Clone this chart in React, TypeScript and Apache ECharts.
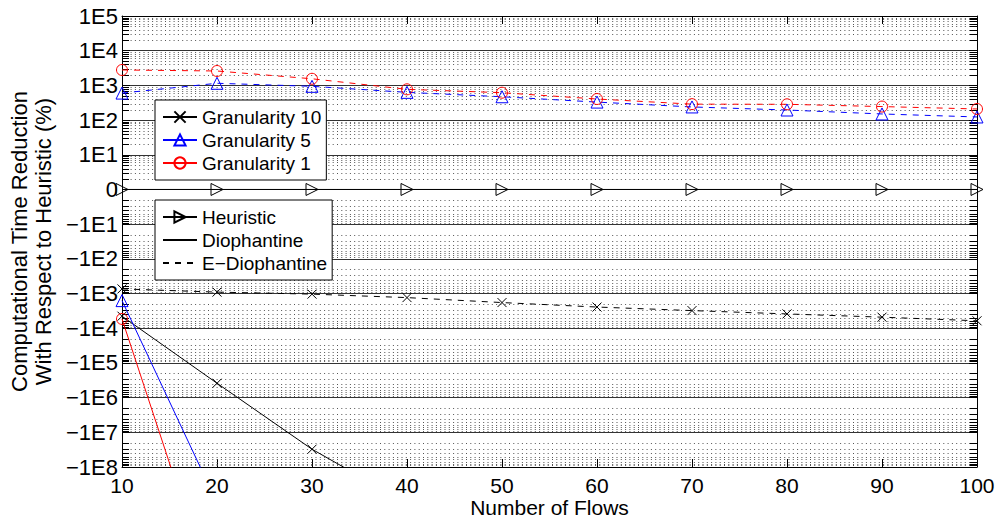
import React, { useEffect, useRef } from 'react';
import * as echarts from 'echarts';

// ---------- data ----------
const flows = [10, 20, 30, 40, 50, 60, 70, 80, 90, 100];
const heuristic = [0, 0, 0, 0, 0, 0, 0, 0, 0, 0];
// E-Diophantine (dashed)
const gran10EDioph = [-736, -910, -1040, -1310, -1820, -2450, -3100, -3870, -4800, -6100];
const gran5EDioph = [600, 1150, 940, 630, 470, 330, 239, 195, 150, 123];
const gran1EDioph = [2780, 2600, 1550, 770, 615, 405, 288, 285, 245, 209];
// Diophantine (solid) – leave the plot quickly
const gran10DiophFlows = [10, 20, 30, 40];
const gran10Dioph = [-4500, -3.85e5, -3.07e7, -1.1e9];
const gran5DiophFlows = [10, 20];
const gran5Dioph = [-1600, -1.07e9];
const gran1DiophFlows = [10, 20];
const gran1Dioph = [-5400, -1.1e12];

const yTickLabels = ['−1E8', '−1E7', '−1E6', '−1E5', '−1E4', '−1E3', '−1E2', '−1E1', '0', '1E1', '1E2', '1E3', '1E4', '1E5'];
const yMinExp = -8;
const yMaxExp = 5;
const minorMantissas = [2, 3, 4, 5, 6, 7, 8, 9];

const FONT = '"Liberation Sans", Arial, Helvetica, sans-serif';

const symlog = (v: number) => (v === 0 ? 0 : Math.sign(v) * Math.log10(Math.abs(v)));
const pairs = (xs: number[], ys: number[]) => xs.map((x, i) => [x, symlog(ys[i])]);

const minorPositions: number[] = [];
for (let k = yMinExp; k < yMaxExp; k++) {
  for (const m of minorMantissas) {
    minorPositions.push(k >= 0 ? k + Math.log10(m) : k + 1 - Math.log10(m));
  }
}

const X_SYMBOL = 'path://M0,0L10,10M10,0L0,10';

export default function App() {
  const ref = useRef<HTMLDivElement>(null);
  useEffect(() => {
    if (!ref.current) return;
    const chart = echarts.init(ref.current, undefined, { renderer: 'svg' });

    const legendCommon = {
      orient: 'vertical' as const,
      left: 155,
      backgroundColor: '#fff',
      borderColor: '#000',
      borderWidth: 1,
      borderRadius: 0,
      padding: [7, 5, 7, 7],
      itemWidth: 34,
      itemHeight: 14,
      itemGap: 3,
      selectedMode: false,
      textStyle: { fontSize: 19, fontFamily: FONT, color: '#000', lineHeight: 20 },
    };

    const hollow = (c: string) => ({ color: 'rgba(0,0,0,0)', borderColor: c, borderWidth: 1 });

    const option: any = {
      animation: false,
      backgroundColor: '#fff',
      textStyle: { fontFamily: FONT },
      grid: { left: 122, right: 24, top: 16, bottom: 52, containLabel: false, outerBoundsMode: 'none' },
      legend: [
        { ...legendCommon, top: 100, data: ['Granularity 10', 'Granularity 5', 'Granularity 1'] },
        { ...legendCommon, top: 200, data: ['Heuristic', 'Diophantine', 'E−Diophantine'] },
      ],
      xAxis: [
        {
          type: 'value', min: 10, max: 100, interval: 10, position: 'bottom',
          axisLine: { onZero: false, lineStyle: { color: '#000', width: 1 } },
          axisTick: { inside: true, length: 8, lineStyle: { color: '#000' } },
          axisLabel: { fontSize: 21, lineHeight: 21, color: '#000', fontFamily: FONT, margin: 8 },
          splitLine: { show: false },
          name: 'Number of Flows', nameLocation: 'middle', nameGap: 40, nameMoveOverlap: false,
          nameTextStyle: { fontSize: 21, lineHeight: 17, color: '#000', fontFamily: FONT, verticalAlign: 'middle' },
        },
        {
          type: 'value', min: 10, max: 100, interval: 10, position: 'top',
          axisLine: { onZero: false, lineStyle: { color: '#000', width: 1 } },
          axisTick: { inside: true, length: 8, lineStyle: { color: '#000' } },
          axisLabel: { show: false }, splitLine: { show: false },
        },
      ],
      yAxis: [
        {
          type: 'value', min: yMinExp, max: yMaxExp, interval: 1, position: 'left',
          axisLine: { onZero: false, lineStyle: { color: '#000', width: 1 } },
          axisTick: { inside: true, length: 8, lineStyle: { color: '#000' } },
          axisLabel: {
            fontSize: 22, color: '#000', fontFamily: FONT, margin: 4,
            formatter: (v: number) => yTickLabels[Math.round(v) - yMinExp],
          },
          splitLine: { show: true, lineStyle: { color: '#333', width: 1, type: 'solid' } },
          name: 'Computational Time Reduction\nWith Respect to Heuristic (%)',
          nameLocation: 'middle', nameRotate: 90, nameGap: 67, nameMoveOverlap: false,
          nameTextStyle: { fontSize: 22, color: '#000', fontFamily: FONT, lineHeight: 24 },
        },
        {
          type: 'value', min: yMinExp, max: yMaxExp, interval: 1, position: 'right',
          axisLine: { onZero: false, lineStyle: { color: '#000', width: 1 } },
          axisTick: { inside: true, length: 8, lineStyle: { color: '#000' } },
          axisLabel: { show: false }, splitLine: { show: false },
        },
      ],
      series: [
        {
          type: 'custom', name: 'minorGrid', silent: true, z: 1, clip: false,
          data: minorPositions.map((t) => [10, t]),
          encode: { x: 0, y: 1 },
          renderItem: (params: any, api: any) => {
            const cs = params.coordSys;
            const y = Math.round(api.coord([10, api.value(1)])[1]) + 0.5;
            const l = cs.x, r = cs.x + cs.width;
            return {
              type: 'group',
              children: [
                { type: 'line', shape: { x1: l, y1: y, x2: r, y2: y }, style: { stroke: '#555', lineWidth: 1, lineDash: [1, 3.3] } },
                { type: 'line', shape: { x1: l, y1: y, x2: l + 7, y2: y }, style: { stroke: '#000', lineWidth: 1 } },
                { type: 'line', shape: { x1: r - 7, y1: y, x2: r, y2: y }, style: { stroke: '#000', lineWidth: 1 } },
              ],
            };
          },
        },
        {
          name: 'Granularity 10', type: 'line', data: pairs(gran10DiophFlows, gran10Dioph),
          symbol: X_SYMBOL, symbolSize: 9, itemStyle: hollow('#000'),
          lineStyle: { color: '#000', width: 1 },
        },
        {
          name: 'Granularity 5', type: 'line', data: pairs(gran5DiophFlows, gran5Dioph),
          symbol: 'triangle', symbolSize: 12, itemStyle: hollow('#0000ff'),
          lineStyle: { color: '#0000ff', width: 1 },
        },
        {
          name: 'Granularity 1', type: 'line', data: pairs(gran1DiophFlows, gran1Dioph),
          symbol: 'circle', symbolSize: 11, itemStyle: hollow('#ff0000'),
          lineStyle: { color: '#ff0000', width: 1 },
        },
        {
          name: 'Granularity 10 E', type: 'line', data: pairs(flows, gran10EDioph),
          symbol: X_SYMBOL, symbolSize: 9, itemStyle: hollow('#000'),
          lineStyle: { color: '#000', width: 1, type: [6, 6] },
        },
        {
          name: 'Granularity 5 E', type: 'line', data: pairs(flows, gran5EDioph),
          symbol: 'triangle', symbolSize: 12, itemStyle: hollow('#0000ff'),
          lineStyle: { color: '#0000ff', width: 1, type: [6, 6] },
        },
        {
          name: 'Granularity 1 E', type: 'line', data: pairs(flows, gran1EDioph),
          symbol: 'circle', symbolSize: 11, itemStyle: hollow('#ff0000'),
          lineStyle: { color: '#ff0000', width: 1, type: [6, 6] },
        },
        {
          name: 'Heuristic', type: 'line', data: pairs(flows, heuristic),
          symbol: 'triangle', symbolRotate: -90, symbolSize: 12, itemStyle: hollow('#000'),
          lineStyle: { color: '#000', width: 1 },
        },
        {
          name: 'Diophantine', type: 'line', data: [],
          symbol: 'none', itemStyle: { color: 'rgba(0,0,0,0)', borderColor: 'rgba(0,0,0,0)', borderWidth: 0 },
          lineStyle: { color: '#000', width: 1 },
        },
        {
          name: 'E−Diophantine', type: 'line', data: [],
          symbol: 'none', itemStyle: { color: 'rgba(0,0,0,0)', borderColor: 'rgba(0,0,0,0)', borderWidth: 0 },
          lineStyle: { color: '#000', width: 1, type: [6, 6] },
        },
      ],
    };
    chart.setOption(option);
    return () => chart.dispose();
  }, []);
  return <div ref={ref} style={{ position: 'absolute', left: 0, top: 0, width: 1001, height: 519 }} />;
}
